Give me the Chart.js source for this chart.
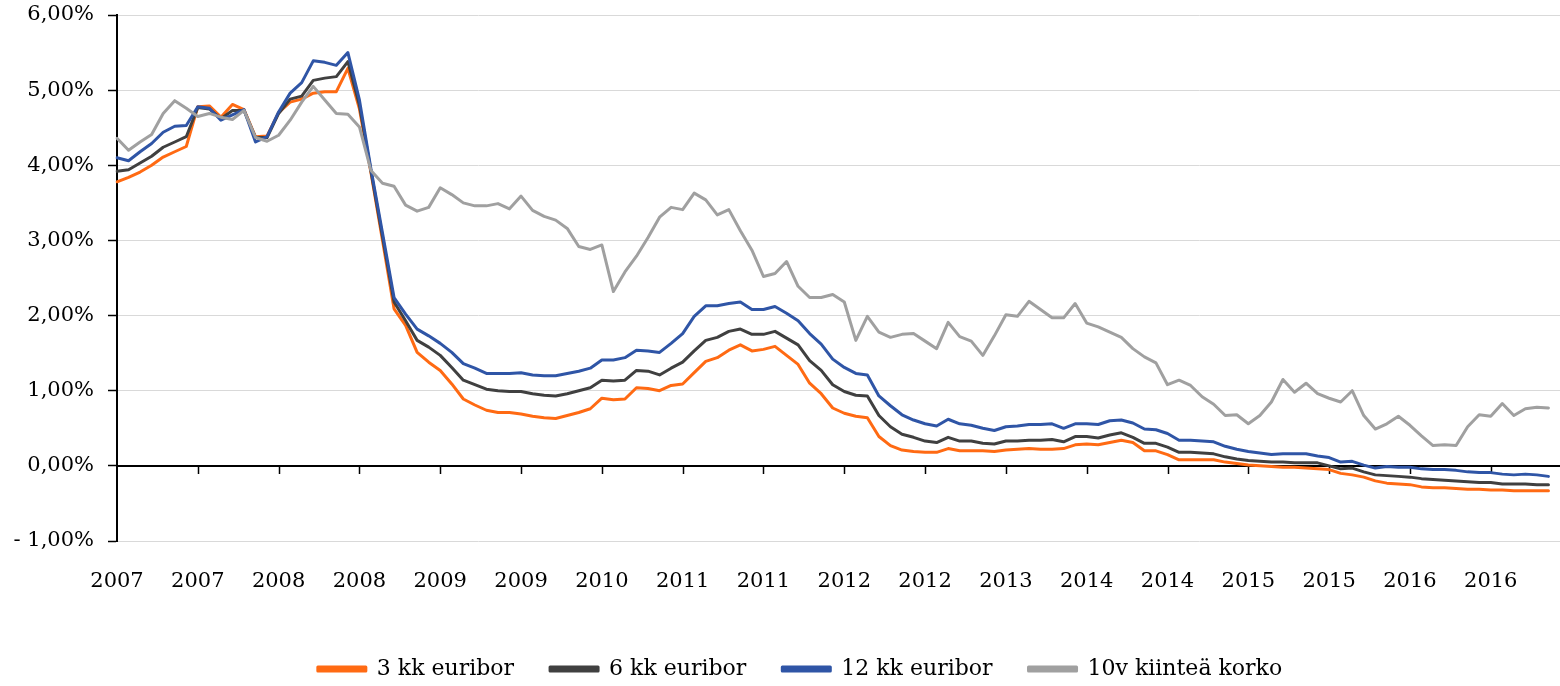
<!DOCTYPE html>
<html>
<head>
<meta charset="utf-8">
<script src="https://cdn.jsdelivr.net/npm/chart.js@4.4.1/dist/chart.umd.min.js"></script>
<style>
  html, body { margin: 0; padding: 0; background: #fff; }
  #wrap { width: 1560px; height: 686px; }
</style>
</head>
<body>
<div id="wrap"><canvas id="korkoChart" width="1560" height="686"></canvas></div>
<script>
// kuukausidata tammikuu 2007 -> toukokuu 2017
const alkuVuosi = 2007;
const kuukausia = 126;
const tickVali = 7;
const xTickLabels = ["2007", "2007", "2008", "2008", "2009", "2009", "2010", "2011", "2011",
  "2012", "2012", "2013", "2014", "2014", "2015", "2015", "2016", "2016"];
const yTicks = [-1, 0, 1, 2, 3, 4, 5, 6];

const euribor3 = [3.78, 3.84, 3.91, 4.00, 4.11, 4.18, 4.25, 4.78, 4.79, 4.64,
  4.81, 4.74, 4.38, 4.39, 4.70, 4.84, 4.88, 4.96, 4.98, 4.98,
  5.29, 4.75, 3.90, 3.00, 2.09, 1.87, 1.51, 1.38, 1.27, 1.09,
  0.89, 0.81, 0.74, 0.71, 0.71, 0.69, 0.66, 0.64, 0.63, 0.67,
  0.71, 0.76, 0.90, 0.88, 0.89, 1.04, 1.03, 1.00, 1.07, 1.09,
  1.24, 1.39, 1.44, 1.54, 1.61, 1.53, 1.55, 1.59, 1.47, 1.35,
  1.10, 0.96, 0.77, 0.70, 0.66, 0.64, 0.39, 0.27, 0.21, 0.19,
  0.18, 0.18, 0.23, 0.20, 0.20, 0.20, 0.19, 0.21, 0.22, 0.23,
  0.22, 0.22, 0.23, 0.28, 0.29, 0.28, 0.31, 0.34, 0.31, 0.20,
  0.20, 0.15, 0.08, 0.08, 0.08, 0.08, 0.05, 0.03, 0.01, 0.00,
  -0.01, -0.02, -0.02, -0.03, -0.04, -0.05, -0.10, -0.12, -0.15, -0.20,
  -0.23, -0.24, -0.25, -0.28, -0.29, -0.29, -0.30, -0.31, -0.31, -0.32,
  -0.32, -0.33, -0.33, -0.33, -0.33];

const euribor6 = [3.92, 3.94, 4.03, 4.12, 4.24, 4.31, 4.38, 4.77, 4.75, 4.62,
  4.73, 4.73, 4.37, 4.37, 4.69, 4.88, 4.92, 5.13, 5.16, 5.18,
  5.38, 4.80, 3.92, 3.05, 2.18, 1.93, 1.67, 1.58, 1.47, 1.31,
  1.14, 1.08, 1.02, 1.00, 0.99, 0.99, 0.96, 0.94, 0.93, 0.96,
  1.00, 1.04, 1.14, 1.13, 1.14, 1.27, 1.26, 1.21, 1.30, 1.38,
  1.53, 1.67, 1.71, 1.79, 1.82, 1.75, 1.75, 1.79, 1.70, 1.61,
  1.40, 1.27, 1.08, 0.99, 0.94, 0.93, 0.67, 0.52, 0.42, 0.38,
  0.33, 0.31, 0.38, 0.33, 0.33, 0.30, 0.29, 0.33, 0.33, 0.34,
  0.34, 0.35, 0.32, 0.39, 0.39, 0.37, 0.41, 0.44, 0.38, 0.30,
  0.30, 0.25, 0.18, 0.18, 0.17, 0.16, 0.12, 0.09, 0.07, 0.06,
  0.05, 0.05, 0.04, 0.04, 0.04, 0.00, -0.04, -0.03, -0.08, -0.12,
  -0.13, -0.14, -0.15, -0.17, -0.18, -0.19, -0.20, -0.21, -0.22, -0.22,
  -0.24, -0.24, -0.24, -0.25, -0.25];

const euribor12 = [4.10, 4.06, 4.18, 4.29, 4.44, 4.52, 4.53, 4.78, 4.76, 4.60,
  4.67, 4.74, 4.31, 4.38, 4.71, 4.96, 5.10, 5.39, 5.37, 5.33,
  5.50, 4.87, 3.95, 3.10, 2.24, 2.02, 1.82, 1.73, 1.63, 1.51,
  1.36, 1.30, 1.23, 1.23, 1.23, 1.24, 1.21, 1.20, 1.20, 1.23,
  1.26, 1.30, 1.41, 1.41, 1.44, 1.54, 1.53, 1.51, 1.63, 1.76,
  1.99, 2.13, 2.13, 2.16, 2.18, 2.08, 2.08, 2.12, 2.03, 1.93,
  1.76, 1.62, 1.42, 1.31, 1.23, 1.21, 0.93, 0.80, 0.68, 0.61,
  0.56, 0.53, 0.62, 0.56, 0.54, 0.50, 0.47, 0.52, 0.53, 0.55,
  0.55, 0.56, 0.50, 0.56, 0.56, 0.55, 0.60, 0.61, 0.57, 0.49,
  0.48, 0.43, 0.34, 0.34, 0.33, 0.32, 0.26, 0.22, 0.19, 0.17,
  0.15, 0.16, 0.16, 0.16, 0.13, 0.11, 0.05, 0.06, 0.01, -0.03,
  -0.01, -0.02, -0.02, -0.04, -0.05, -0.05, -0.06, -0.08, -0.09, -0.09,
  -0.11, -0.12, -0.11, -0.12, -0.14];

const kiintea10v = [4.36, 4.20, 4.31, 4.41, 4.69, 4.86, 4.76, 4.65, 4.69, 4.64,
  4.61, 4.73, 4.37, 4.32, 4.40, 4.60, 4.84, 5.05, 4.87, 4.69,
  4.68, 4.51, 3.93, 3.76, 3.72, 3.47, 3.39, 3.44, 3.70, 3.61,
  3.50, 3.46, 3.46, 3.49, 3.42, 3.59, 3.40, 3.32, 3.27, 3.16,
  2.92, 2.88, 2.94, 2.32, 2.58, 2.79, 3.04, 3.31, 3.44, 3.41,
  3.63, 3.54, 3.34, 3.41, 3.13, 2.87, 2.52, 2.56, 2.72, 2.39,
  2.24, 2.24, 2.28, 2.18, 1.67, 1.99, 1.78, 1.71, 1.75, 1.76,
  1.66, 1.56, 1.91, 1.72, 1.66, 1.47, 1.73, 2.01, 1.99, 2.19,
  2.08, 1.97, 1.97, 2.16, 1.90, 1.85, 1.78, 1.71, 1.56, 1.45,
  1.37, 1.08, 1.14, 1.07, 0.92, 0.82, 0.67, 0.68, 0.56, 0.67,
  0.85, 1.15, 0.98, 1.10, 0.96, 0.90, 0.85, 1.00, 0.67, 0.49,
  0.56, 0.66, 0.54, 0.40, 0.27, 0.28, 0.27, 0.52, 0.68, 0.66,
  0.83, 0.67, 0.76, 0.78, 0.77];

// kategoriat: yksi per kuukausi
const kuukaudet = [];
for (let i = 0; i < kuukausia; i++) {
  const v = alkuVuosi + Math.floor(i / 12);
  const kk = (i % 12) + 1;
  kuukaudet.push(v + "-" + String(kk).padStart(2, "0"));
}

const fontti = "'DejaVu Serif', 'Liberation Serif', serif";

function prosentti(v) {
  const s = Math.abs(v).toFixed(2).replace(".", ",") + "%";
  return v < 0 ? "- " + s : s;
}

// musta vaaka-akseli 0 %:n kohdalla tikkeineen
const nollaAkseli = {
  id: "nollaAkseli",
  beforeDatasetsDraw(chart) {
    const { ctx, chartArea, scales } = chart;
    const y0 = Math.round(scales.y.getPixelForValue(0));
    ctx.save();
    ctx.strokeStyle = "#000";
    ctx.lineWidth = 2;
    ctx.beginPath();
    ctx.moveTo(chartArea.left, y0);
    ctx.lineTo(chartArea.right, y0);
    ctx.stroke();
    ctx.lineWidth = 1.5;
    for (let i = tickVali; i < kuukausia; i += tickVali) {
      const x = Math.round(scales.x.getPixelForValue(i)) + 0.5;
      ctx.beginPath();
      ctx.moveTo(x, y0);
      ctx.lineTo(x, y0 + 8);
      ctx.stroke();
    }
    ctx.restore();
  },
};

// selite hieman oikealle kuten alkuperäisessä
const seliteSiirto = {
  id: "seliteSiirto",
  afterLayout(chart) {
    if (!chart.legend) return;
    chart.legend.left += 20;
    chart.legend.right += 20;
  },
};

const ctx = document.getElementById("korkoChart").getContext("2d");

new Chart(ctx, {
  type: "line",
  data: {
    labels: kuukaudet,
    datasets: [
      { label: "3 kk euribor", data: euribor3, borderColor: "#ff6a13", backgroundColor: "#ff6a13", order: 3 },
      { label: "6 kk euribor", data: euribor6, borderColor: "#404040", backgroundColor: "#404040", order: 2 },
      { label: "12 kk euribor", data: euribor12, borderColor: "#2f55a6", backgroundColor: "#2f55a6", order: 1 },
      { label: "10v kiinteä korko", data: kiintea10v, borderColor: "#a0a0a0", backgroundColor: "#a0a0a0", order: 0 },
    ],
  },
  options: {
    responsive: false,
    animation: false,
    devicePixelRatio: 1,
    layout: { padding: { top: 15, right: 0, left: 0, bottom: -4 } },
    elements: {
      line: { borderWidth: 3, tension: 0, borderJoinStyle: "round", borderCapStyle: "round" },
      point: { radius: 0 },
    },
    plugins: {
      tooltip: { enabled: false },
      legend: {
        position: "bottom",
        labels: {
          font: { family: fontti, size: 22 },
          color: "#000",
          boxWidth: 48,
          boxHeight: 4,
          padding: 36,
          sort: (a, b) => a.datasetIndex - b.datasetIndex,
        },
      },
    },
    scales: {
      x: {
        grid: { display: false },
        border: { display: false },
        ticks: {
          autoSkip: false,
          maxRotation: 0,
          minRotation: 0,
          padding: 20,
          color: "#000",
          font: { family: fontti, size: 21 },
          callback: (v, i) =>
            i % tickVali === 0 && i / tickVali < xTickLabels.length ? xTickLabels[i / tickVali] : "",
        },
        afterFit(scale) {
          const chart = scale.chart;
          const leg = chart.legend ? chart.legend.height : 0;
          scale.height = Math.max(0, chart.height + 4 - leg - 541);
          scale.paddingLeft = 0;
          scale.paddingRight = 0;
        },
      },
      y: {
        min: -1,
        max: 6,
        afterBuildTicks(scale) {
          scale.ticks = yTicks.map((v) => ({ value: v }));
        },
        grid: { color: "#d9d9d9", lineWidth: 1, tickColor: "#000", tickLength: 9, tickWidth: 1.5 },
        border: { display: true, color: "#000", width: 2 },
        ticks: {
          padding: 14,
          color: "#000",
          font: { family: fontti, size: 21 },
          callback: (v) => prosentti(v),
        },
        afterFit(scale) {
          scale.width = 117;
          scale.paddingTop = 0;
          scale.paddingBottom = 0;
        },
      },
    },
  },
  plugins: [nollaAkseli, seliteSiirto],
});
</script>
</body>
</html>
